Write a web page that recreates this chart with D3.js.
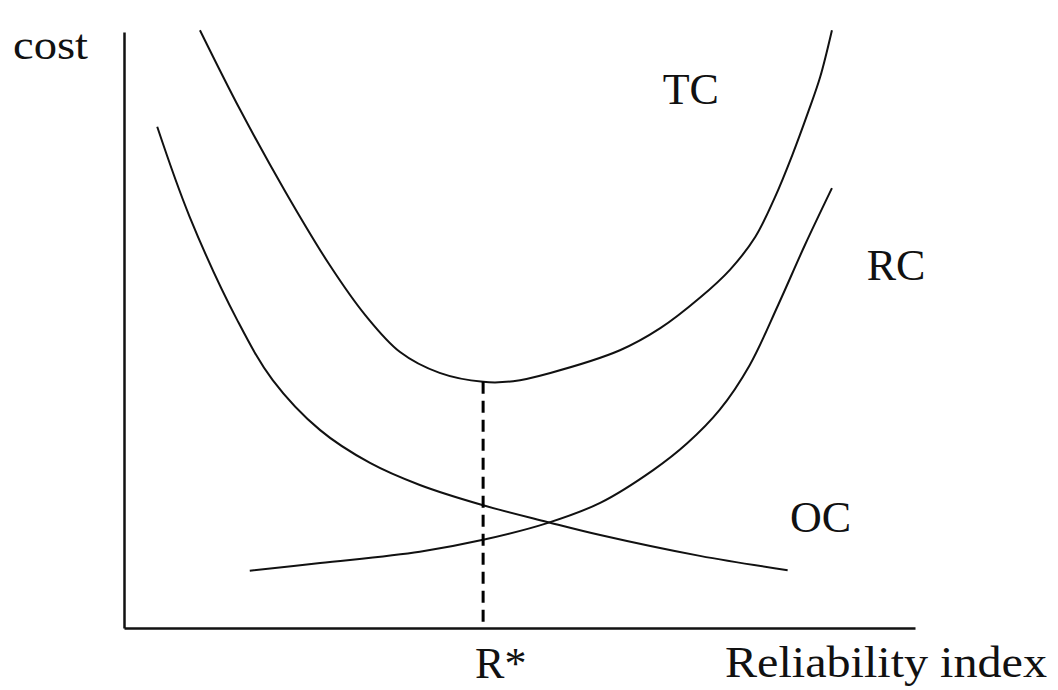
<!DOCTYPE html>
<html>
<head>
<meta charset="utf-8">
<script src="https://cdn.jsdelivr.net/npm/d3@7"></script>
<style>
  body { margin: 0; background: #fff; }
  svg { display: block; }
  .label { font-family: "Liberation Serif", "Times New Roman", Times, serif; fill: #111; }
</style>
</head>
<body>
<svg id="costChart" width="1058" height="690"></svg>
<script>
// Curves (x = reliability index, y = cost, arbitrary units 0-100)
const tcX = [9.6, 14.7, 20.4, 26.0, 30.5, 34.9, 39.9, 45.4, 49.2, 53.9, 62.7, 67.8, 72.8, 76.6, 79.8, 82.3, 84.5, 86.5, 88.0, 89.5];
const tcY = [100.3, 86.9, 73.2, 60.9, 52.5, 46.3, 42.8, 41.3, 41.4, 42.8, 46.6, 50.3, 55.4, 60.1, 65.6, 72.3, 79.4, 86.6, 92.4, 100.3];

const ocX = [4.2, 8.3, 14.3, 18.8, 24.8, 31.1, 37.4, 45.4, 53.5, 60.2, 72.8, 83.9];
const ocY = [84.1, 69.0, 51.7, 41.6, 33.2, 27.7, 24.0, 20.6, 17.8, 15.6, 12.1, 9.7];

const rcX = [15.9, 24.8, 37.4, 45.4, 53.5, 60.2, 66.9, 71.2, 75.3, 79.1, 82.7, 86.1, 89.5];
const rcY = [9.6, 10.9, 12.8, 14.8, 17.6, 21.0, 26.5, 31.0, 36.6, 44.1, 54.2, 64.3, 73.8];

// Optimal reliability R* and the minimum total cost there
const optimumX = 45.4;
const optimumY = 41.3;

const curveLabels = [
    { text: "TC", x: 68.1, y: 88.0 },
    { text: "RC", x: 93.9, y: 58.4 },
    { text: "OC", x: 84.2, y: 16.1 }
];

function init_cost_chart() {
    const svg = d3.select("#costChart");

    // Scales: plot area spans the drawn axes
    const x = d3.scaleLinear().domain([0, 100]).range([124, 915]);
    const y = d3.scaleLinear().domain([0, 100]).range([628, 32]);

    const line = d3.line()
        .x(d => x(d[0]))
        .y(d => y(d[1]))
        .curve(d3.curveCatmullRom.alpha(0.5));

    // Axes as plain lines, no ticks
    const xAxis = d3.axisBottom(x).tickValues([]).tickSizeOuter(0);
    const yAxis = d3.axisLeft(y).tickValues([]).tickSizeOuter(0);

    svg.append("g")
        .attr("transform", `translate(0,${y(0)})`)
        .call(xAxis)
        .select(".domain")
        .attr("stroke", "#111")
        .attr("stroke-width", 2.5);

    svg.append("g")
        .attr("transform", `translate(${x(0)},0)`)
        .call(yAxis)
        .select(".domain")
        .attr("stroke", "#111")
        .attr("stroke-width", 2.5);

    // The three cost curves
    const curves = [
        d3.zip(tcX, tcY),
        d3.zip(ocX, ocY),
        d3.zip(rcX, rcY)
    ];

    svg.selectAll(".cost-curve")
        .data(curves)
        .enter()
        .append("path")
        .attr("class", "cost-curve")
        .attr("d", line)
        .attr("fill", "none")
        .attr("stroke", "#111")
        .attr("stroke-width", 2);

    // Dashed drop line from the TC minimum to the axis
    svg.append("line")
        .attr("x1", x(optimumX))
        .attr("x2", x(optimumX))
        .attr("y1", y(optimumY))
        .attr("y2", y(0))
        .attr("stroke", "#000")
        .attr("stroke-width", 3)
        .attr("stroke-dasharray", "12,7");

    // Curve names
    svg.selectAll(".curve-label")
        .data(curveLabels)
        .enter()
        .append("text")
        .attr("class", "label curve-label")
        .attr("x", d => x(d.x))
        .attr("y", d => y(d.y))
        .style("font-size", "44px")
        .text(d => d.text);

    // Axis titles and R* marker
    svg.append("text")
        .attr("class", "label")
        .attr("x", 13)
        .attr("y", 59)
        .attr("textLength", 75)
        .attr("lengthAdjust", "spacingAndGlyphs")
        .style("font-size", "42px")
        .text("cost");

    svg.append("text")
        .attr("class", "label")
        .attr("x", x(optimumX) - 8)
        .attr("y", 678)
        .style("font-size", "44px")
        .text("R*");

    svg.append("text")
        .attr("class", "label")
        .attr("x", 725)
        .attr("y", 677)
        .attr("textLength", 322)
        .attr("lengthAdjust", "spacingAndGlyphs")
        .style("font-size", "44px")
        .text("Reliability index");
}

init_cost_chart();
</script>
</body>
</html>
